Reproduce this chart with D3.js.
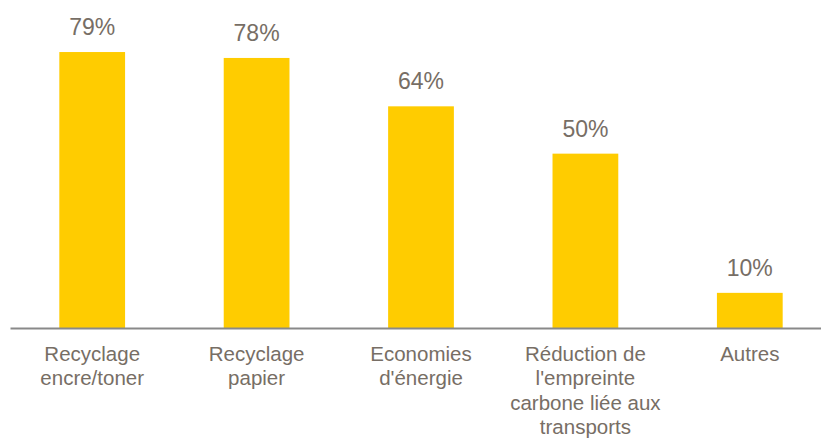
<!DOCTYPE html>
<html>
<head>
<meta charset="utf-8">
<script src="https://cdn.jsdelivr.net/npm/d3@7"></script>
<style>
  html, body { margin: 0; padding: 0; background: #fff; }
  svg { display: block; }
</style>
</head>
<body>
<div id="chart"></div>
<script>
// data
var categories = ["Recyclage encre/toner", "Recyclage papier", "Economies d'énergie",
  "Réduction de l'empreinte carbone liée aux transports", "Autres"];
var categoryLines = [
  ["Recyclage", "encre/toner"],
  ["Recyclage", "papier"],
  ["Economies", "d'énergie"],
  ["Réduction de", "l'empreinte", "carbone liée aux", "transports"],
  ["Autres"]
];
var values = [79.3, 77.6, 63.7, 50.1, 10.1];

(function () {
  "use strict";

  var W = 821, H = 439;
  var baseY = 328;
  var textCol = "#776e65";
  var font = "'Liberation Sans', Arial, sans-serif";

  var svg = d3.select("#chart").append("svg").attr("width", W).attr("height", H);

  var x = d3.scaleBand().domain(categories).range([10, 832])
    .paddingInner(0.6).paddingOuter(0.3);
  var y = d3.scaleLinear().domain([0, 100]).range([baseY, baseY - 348]);

  var data = categories.map(function (c, i) {
    return { cat: c, value: values[i], lines: categoryLines[i] };
  });

  // bars
  svg.append("g").selectAll("rect").data(data).enter().append("rect")
    .attr("x", function (d) { return x(d.cat); })
    .attr("width", x.bandwidth())
    .attr("y", function (d) { return y(d.value); })
    .attr("height", function (d) { return baseY - y(d.value); })
    .attr("fill", "#ffcc00");

  // value labels
  svg.append("g").selectAll("text").data(data).enter().append("text")
    .attr("x", function (d) { return x(d.cat) + x.bandwidth() / 2; })
    .attr("y", function (d) { return y(d.value) - 17; })
    .attr("text-anchor", "middle")
    .attr("fill", textCol)
    .style("font-family", font).style("font-size", "23px")
    .text(function (d) { return Math.round(d.value) + "%"; });

  // axis baseline
  var gX = svg.append("g").attr("transform", "translate(0," + baseY + ")")
    .call(d3.axisBottom(x).tickSize(0).tickFormat(""));
  gX.select(".domain").attr("stroke", "#898989").attr("stroke-width", 2);
  gX.selectAll(".tick text").remove();

  // category labels (multi-line)
  var lab = svg.append("g").selectAll("text").data(data).enter().append("text")
    .attr("text-anchor", "middle")
    .attr("fill", textCol)
    .style("font-family", font).style("font-size", "20.5px");
  lab.each(function (d) {
    var t = d3.select(this);
    var cx = x(d.cat) + x.bandwidth() / 2;
    d.lines.forEach(function (line, i) {
      t.append("tspan").attr("x", cx).attr("y", baseY + 33 + i * 24.3).text(line);
    });
  });
})();
</script>
</body>
</html>
